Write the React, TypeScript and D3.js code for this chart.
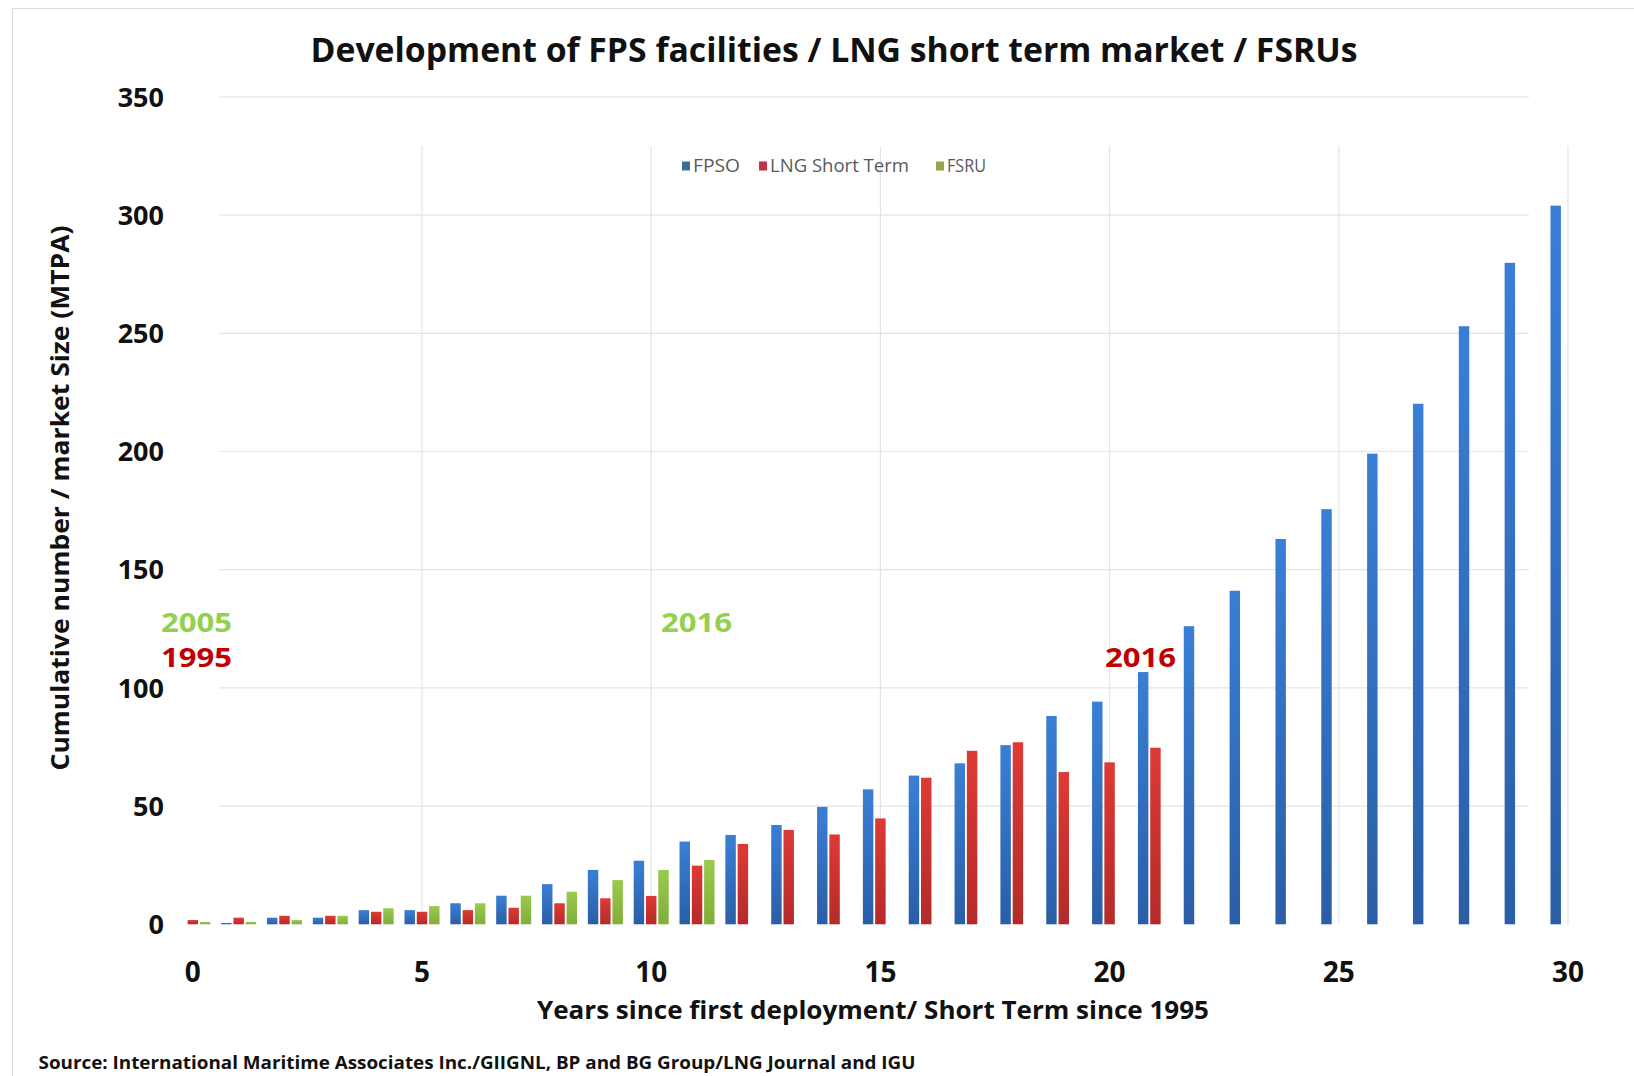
import * as d3 from 'd3';
import React, { useEffect, useRef } from 'react';

const categories = ['0', '1', '2', '3', '4', '5', '6', '7', '8', '9', '10', '11', '12', '13', '14', '15',
  '16', '17', '18', '19', '20', '21', '22', '23', '24', '25', '26', '27', '28', '29', '30'];
const tickLabels = ['0', '5', '10', '15', '20', '25', '30'];
const seriesNames = ['FPSO', 'LNG Short Term', 'FSRU'];
const fpso = [0, 0.6, 2.8, 2.8, 6, 6, 8.9, 12.1, 17, 23, 26.9, 35, 37.8, 42, 49.7, 57.1, 62.9, 68.1, 75.8,
  88.1, 94.2, 106.7, 126.1, 141.1, 163, 175.6, 199.1, 220.2, 253, 279.8, 304];
const lngShortTerm = [1.8, 2.8, 3.6, 3.6, 5.3, 5.3, 6, 7, 8.9, 11, 12, 24.8, 34, 39.9, 38, 44.8, 62, 73.4,
  77, 64.4, 68.5, 74.7];
const fsru = [1, 1, 1.8, 3.6, 6.8, 7.7, 8.9, 12.1, 13.8, 18.7, 23, 27.2];
const yTicks = [0, 50, 100, 150, 200, 250, 300, 350];

// colour stops: top, bottom of each bar
const colors = [['#3a7fd6', '#2a5ea6'], ['#de3a35', '#b32b29'], ['#9acb4c', '#7fae3a']];
const legendColors = ['#3d6e99', '#c0314a', '#93a64a'];

const FONT = '"Open Sans", sans-serif';

export default function App() {
  const ref = useRef(null);

  useEffect(() => {
    const width = 1634;
    const height = 1076;
    const svg = d3.select(ref.current);
    svg.selectAll('*').remove();
    svg.attr('width', width).attr('height', height);

    svg.append('rect').attr('width', width).attr('height', height).attr('fill', '#fff');
    svg.append('rect')
      .attr('x', 12.5).attr('y', 8.5).attr('width', width).attr('height', height)
      .attr('fill', 'none').attr('stroke', '#d9d9d9');

    const defs = svg.append('defs');
    colors.forEach((c, i) => {
      const g = defs.append('linearGradient').attr('id', 'grad' + i)
        .attr('x1', 0).attr('y1', 0).attr('x2', 0).attr('y2', 1);
      g.append('stop').attr('offset', '0%').attr('stop-color', c[0]);
      g.append('stop').attr('offset', '100%').attr('stop-color', c[1]);
    });

    const x = d3.scaleBand().domain(categories).range([169.9, 1590.9])
      .paddingInner(0.236).paddingOuter(0.118);
    const xs = d3.scaleBand().domain(seriesNames).range([0, x.bandwidth()]).paddingInner(0.15);
    const y = d3.scaleLinear().domain([0, 350]).range([924.3, 96.9]);
    const cx = (c) => x(c) + x.bandwidth() / 2;

    // gridlines
    svg.append('g').selectAll('line').data(yTicks.slice(1)).enter().append('line')
      .attr('x1', 219).attr('x2', 1529)
      .attr('y1', (d) => y(d)).attr('y2', (d) => y(d))
      .attr('stroke', '#e4e4e4').attr('stroke-width', 1.2);
    svg.append('g').selectAll('line').data(tickLabels.slice(1)).enter().append('line')
      .attr('x1', (d) => cx(d)).attr('x2', (d) => cx(d))
      .attr('y1', 146).attr('y2', y(0))
      .attr('stroke', '#e4e4e4').attr('stroke-width', 1.2);

    // bars
    const series = [fpso, lngShortTerm, fsru];
    series.forEach((vals, si) => {
      svg.append('g').selectAll('rect').data(vals).enter().append('rect')
        .attr('x', (d, i) => x(categories[i]) + xs(seriesNames[si]))
        .attr('width', xs.bandwidth())
        .attr('y', (d) => y(d))
        .attr('height', (d) => y(0) - y(d))
        .attr('fill', 'url(#grad' + si + ')');
    });

    // y tick labels
    svg.append('g').selectAll('text').data(yTicks).enter().append('text')
      .attr('x', 164).attr('y', (d) => y(d)).attr('dy', '0.36em')
      .attr('text-anchor', 'end')
      .attr('font-family', FONT).attr('font-weight', 700).attr('font-size', 27).attr('fill', '#111')
      .text((d) => d);

    // x tick labels
    svg.append('g').selectAll('text').data(tickLabels).enter().append('text')
      .attr('x', (d) => cx(d)).attr('y', 982)
      .attr('text-anchor', 'middle')
      .attr('font-family', FONT).attr('font-weight', 700).attr('font-size', 28).attr('fill', '#111')
      .text((d) => d);

    // title
    svg.append('text')
      .attr('x', 834).attr('y', 62).attr('text-anchor', 'middle')
      .attr('textLength', 1047).attr('lengthAdjust', 'spacingAndGlyphs')
      .attr('font-family', FONT).attr('font-weight', 700).attr('font-size', 34).attr('fill', '#111')
      .text('Development of FPS facilities / LNG short term market / FSRUs');

    // axis titles
    svg.append('text')
      .attr('x', 873).attr('y', 1019).attr('text-anchor', 'middle')
      .attr('textLength', 672).attr('lengthAdjust', 'spacingAndGlyphs')
      .attr('font-family', FONT).attr('font-weight', 700).attr('font-size', 25).attr('fill', '#111')
      .text('Years since first deployment/ Short Term since 1995');
    svg.append('text')
      .attr('transform', 'translate(69,498) rotate(-90)').attr('text-anchor', 'middle')
      .attr('textLength', 545).attr('lengthAdjust', 'spacingAndGlyphs')
      .attr('font-family', FONT).attr('font-weight', 700).attr('font-size', 25).attr('fill', '#111')
      .text('Cumulative number  / market Size (MTPA)');

    // source
    svg.append('text')
      .attr('x', 38.5).attr('y', 1069)
      .attr('textLength', 877).attr('lengthAdjust', 'spacingAndGlyphs')
      .attr('font-family', FONT).attr('font-weight', 700).attr('font-size', 18).attr('fill', '#111')
      .text('Source: International Maritime Associates Inc./GIIGNL, BP and BG Group/LNG Journal and IGU');

    // year annotations
    const notes = [
      { text: '2005', x: 161, y: 632, color: '#92d050' },
      { text: '1995', x: 161, y: 667, color: '#c00000' },
      { text: '2016', x: 661, y: 632, color: '#92d050' },
      { text: '2016', x: 1105, y: 667, color: '#c00000' },
    ];
    svg.append('g').selectAll('text').data(notes).enter().append('text')
      .attr('x', (d) => d.x).attr('y', (d) => d.y)
      .attr('textLength', 71).attr('lengthAdjust', 'spacingAndGlyphs')
      .attr('font-family', FONT).attr('font-weight', 700).attr('font-size', 26)
      .attr('fill', (d) => d.color)
      .text((d) => d.text);

    // legend
    const legendX = [682, 759, 936];
    const legendLen = [47, 139, 39];
    const leg = svg.append('g').selectAll('g').data(seriesNames).enter().append('g')
      .attr('transform', (d, i) => 'translate(' + legendX[i] + ',166)');
    leg.append('rect').attr('x', 0).attr('y', -4.5).attr('width', 8).attr('height', 9)
      .attr('fill', (d, i) => legendColors[i]);
    leg.append('text').attr('x', 11).attr('y', 0).attr('dy', '0.36em')
      .attr('textLength', (d, i) => legendLen[i]).attr('lengthAdjust', 'spacingAndGlyphs')
      .attr('font-family', FONT).attr('font-size', 18).attr('fill', '#595959')
      .text((d) => d);
  }, []);

  return (
    <div style={{ position: 'absolute', left: 0, top: 0 }}>
      <svg ref={ref}></svg>
    </div>
  );
}
